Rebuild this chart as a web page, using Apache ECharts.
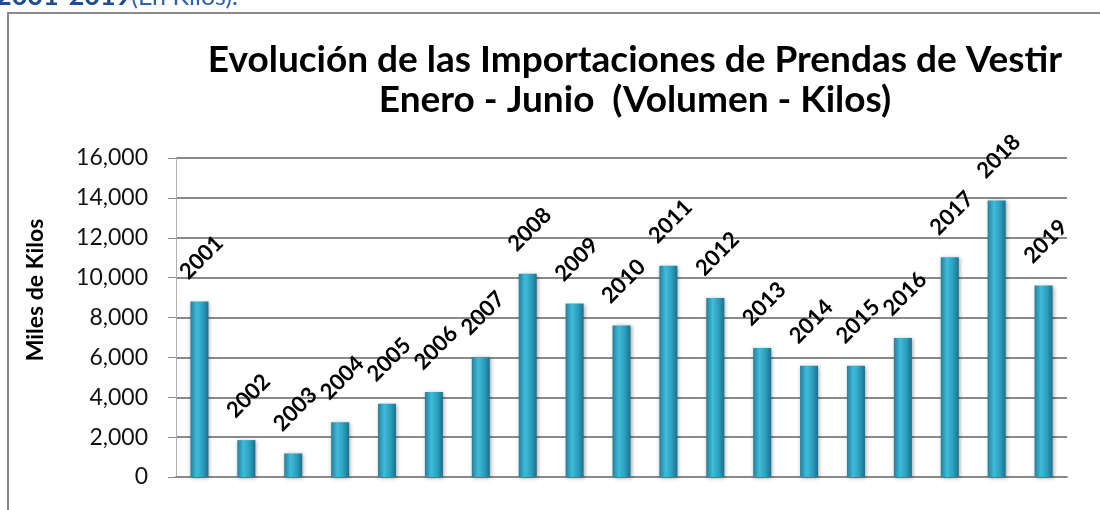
<!DOCTYPE html>
<html>
<head>
<meta charset="utf-8">
<script src="https://cdn.jsdelivr.net/npm/echarts@6/dist/echarts.min.js"></script>
<style>
  html, body { margin: 0; padding: 0; background: #fff; }
  #chart { width: 1100px; height: 510px; }
</style>
</head>
<body>
<div id="chart"></div>
<script>
// years shown on the bars
const years = ["2001", "2002", "2003", "2004", "2005", "2006", "2007", "2008", "2009", "2010",
  "2011", "2012", "2013", "2014", "2015", "2016", "2017", "2018", "2019"];
// miles de kilos
const volumen = [8800, 1850, 1180, 2750, 3670, 4260, 6000, 10200, 8700, 7600,
  10600, 8980, 6470, 5580, 5580, 6970, 11020, 13870, 9600];
const yTicks = [0, 2000, 4000, 6000, 8000, 10000, 12000, 14000, 16000];

const chart = echarts.init(document.getElementById("chart"));

const barColor = new echarts.graphic.LinearGradient(0, 0, 1, 0, [
  { offset: 0, color: "#237f9b" },
  { offset: 0.35, color: "#40bbdb" },
  { offset: 0.7, color: "#2c9dbc" },
  { offset: 1, color: "#1c7089" }
]);

chart.setOption({
  backgroundColor: "#fff",
  animation: false,
  textStyle: { fontFamily: "Lato" },
  title: {
    text: "Evolución de las Importaciones de Prendas de Vestir\nEnero - Junio  (Volumen - Kilos)",
    left: 630,
    top: 35,
    textAlign: "center",
    textStyle: { fontFamily: "Lato", fontWeight: "bold", fontSize: 37, lineHeight: 40, color: "#000" }
  },
  graphic: [
    {
      type: "rect",
      shape: { x: 8, y: 13, width: 1200, height: 600 },
      style: { fill: "none", stroke: "#8a8a8a", lineWidth: 2 },
      silent: true
    },
    {
      type: "text",
      left: -4,
      top: -17,
      style: {
        text: "{b|2001-2019}{r|(En Kilos).}",
        rich: {
          b: { fontFamily: "Lato", fontWeight: "bold", fontSize: 27, fill: "#1f4e8c" },
          r: { fontFamily: "Lato", fontSize: 25, fill: "#2f62a8" }
        }
      },
      silent: true
    },
    {
      // y-axis title, drawn by hand so it sits where the reference has it
      type: "text",
      x: 36,
      y: 290,
      rotation: Math.PI / 2,
      style: {
        text: "Miles de Kilos",
        fontFamily: "Lato",
        fontWeight: "bold",
        fontSize: 23,
        fill: "#000",
        align: "center",
        verticalAlign: "middle"
      },
      silent: true
    }
  ],
  grid: { left: 176, right: 33, top: 158, bottom: 33 },
  xAxis: {
    type: "category",
    data: years,
    axisLine: { lineStyle: { color: "#8a8a8a", width: 2 } },
    axisTick: { show: false },
    axisLabel: { show: false }
  },
  yAxis: {
    type: "value",
    min: 0,
    max: yTicks[yTicks.length - 1],
    interval: 2000,
    axisLine: { show: true, lineStyle: { color: "#b0b0b0", width: 1 } },
    axisTick: { show: true, length: 8, lineStyle: { color: "#8a8a8a" } },
    axisLabel: {
      margin: 28,
      fontFamily: "Lato",
      fontSize: 23,
      color: "#111",
      formatter: (v) => v.toLocaleString("en-US")
    },
    splitLine: { lineStyle: { color: "#8a8a8a", width: 2 } }
  },
  series: [
    {
      type: "bar",
      data: volumen,
      barWidth: 18,
      itemStyle: {
        color: barColor,
        shadowColor: "rgba(0,0,0,0.35)",
        shadowBlur: 4,
        shadowOffsetX: 1,
        shadowOffsetY: 1
      },
      label: {
        show: true,
        position: "top",
        distance: 42,
        rotate: 45,
        align: "center",
        verticalAlign: "middle",
        offset: [3, 0],
        formatter: (p) => years[p.dataIndex],
        fontFamily: "Lato",
        fontWeight: "bold",
        fontSize: 22,
        color: "#000"
      }
    }
  ]
});
</script>
</body>
</html>
